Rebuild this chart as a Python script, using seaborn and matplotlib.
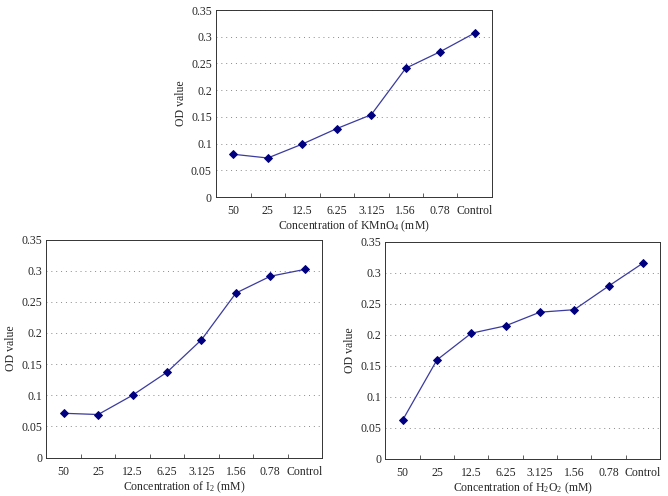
import matplotlib
matplotlib.use("Agg")
import matplotlib.pyplot as plt
import seaborn as sns
from matplotlib.ticker import FixedLocator, MultipleLocator, FormatStrFormatter

# data
concentrations = ["50", "25", "12.5", "6.25", "3.125", "1.56", "0.78", "Control"]
od_kmno4 = [0.080, 0.073, 0.099, 0.128, 0.154, 0.241, 0.272, 0.307]
od_i2 = [0.071, 0.069, 0.100, 0.137, 0.189, 0.264, 0.291, 0.302]
od_h2o2 = [0.062, 0.159, 0.202, 0.214, 0.236, 0.240, 0.278, 0.315]

sns.set_style("ticks")
plt.rcParams["font.family"] = ["Liberation Serif", "DejaVu Serif"]
plt.rcParams["mathtext.fontset"] = "custom"
plt.rcParams["mathtext.rm"] = "Liberation Serif"
plt.rcParams["mathtext.default"] = "rm"

fig = plt.figure(figsize=(6.68, 4.96), dpi=100)
ax_top = fig.add_axes([216 / 668, 1 - 197 / 496, 276 / 668, 187 / 496])
ax_left = fig.add_axes([46.5 / 668, 1 - 457.5 / 496, 275.5 / 668, 218 / 496])
ax_right = fig.add_axes([385.5 / 668, 1 - 458.5 / 496, 274.5 / 668, 217 / 496])

panels = [
    (ax_top, od_kmno4, "Concentration of KMnO$_4$ (mM)"),
    (ax_left, od_i2, "Concentration of I$_2$ (mM)"),
    (ax_right, od_h2o2, "Concentration of H$_2$O$_2$ (mM)"),
]

for ax, values, xlabel in panels:
    sns.pointplot(x=concentrations, y=values, ax=ax, color="#3a3aa0",
                  markers="D", linewidth=0.9, markersize=4,
                  markerfacecolor="#000080", markeredgecolor="#000080")
    ax.set_xlim(-0.5, len(concentrations) - 0.5)
    ax.set_ylim(0, 0.35)
    # tick marks between categories, labels at category centres
    ax.xaxis.set_major_locator(FixedLocator([i + 0.5 for i in range(len(concentrations) - 1)]))
    ax.xaxis.set_major_formatter(plt.NullFormatter())
    ax.xaxis.set_minor_locator(FixedLocator(list(range(len(concentrations)))))
    ax.set_xticklabels(concentrations, minor=True)
    ax.tick_params(axis="x", which="minor", length=0, labelsize=8.5, pad=6)
    ax.tick_params(axis="x", which="major", direction="in", length=3, width=0.6, color="#444444")
    ax.yaxis.set_major_locator(MultipleLocator(0.05))
    ax.yaxis.set_major_formatter(FormatStrFormatter("%g"))
    ax.tick_params(axis="y", length=0, labelsize=8.5, pad=3)
    ax.yaxis.grid(True, linestyle=(0, (1, 4)), color="#888888", linewidth=0.7)
    ax.set_axisbelow(True)
    for s in ax.spines.values():
        s.set_visible(True)
        s.set_color("#333333")
        s.set_linewidth(0.7)
    ax.set_xlabel(xlabel, fontsize=8.5, labelpad=1)
    ax.set_ylabel("OD value", fontsize=8.5, labelpad=3)

fig.savefig("out.png", dpi=100)
